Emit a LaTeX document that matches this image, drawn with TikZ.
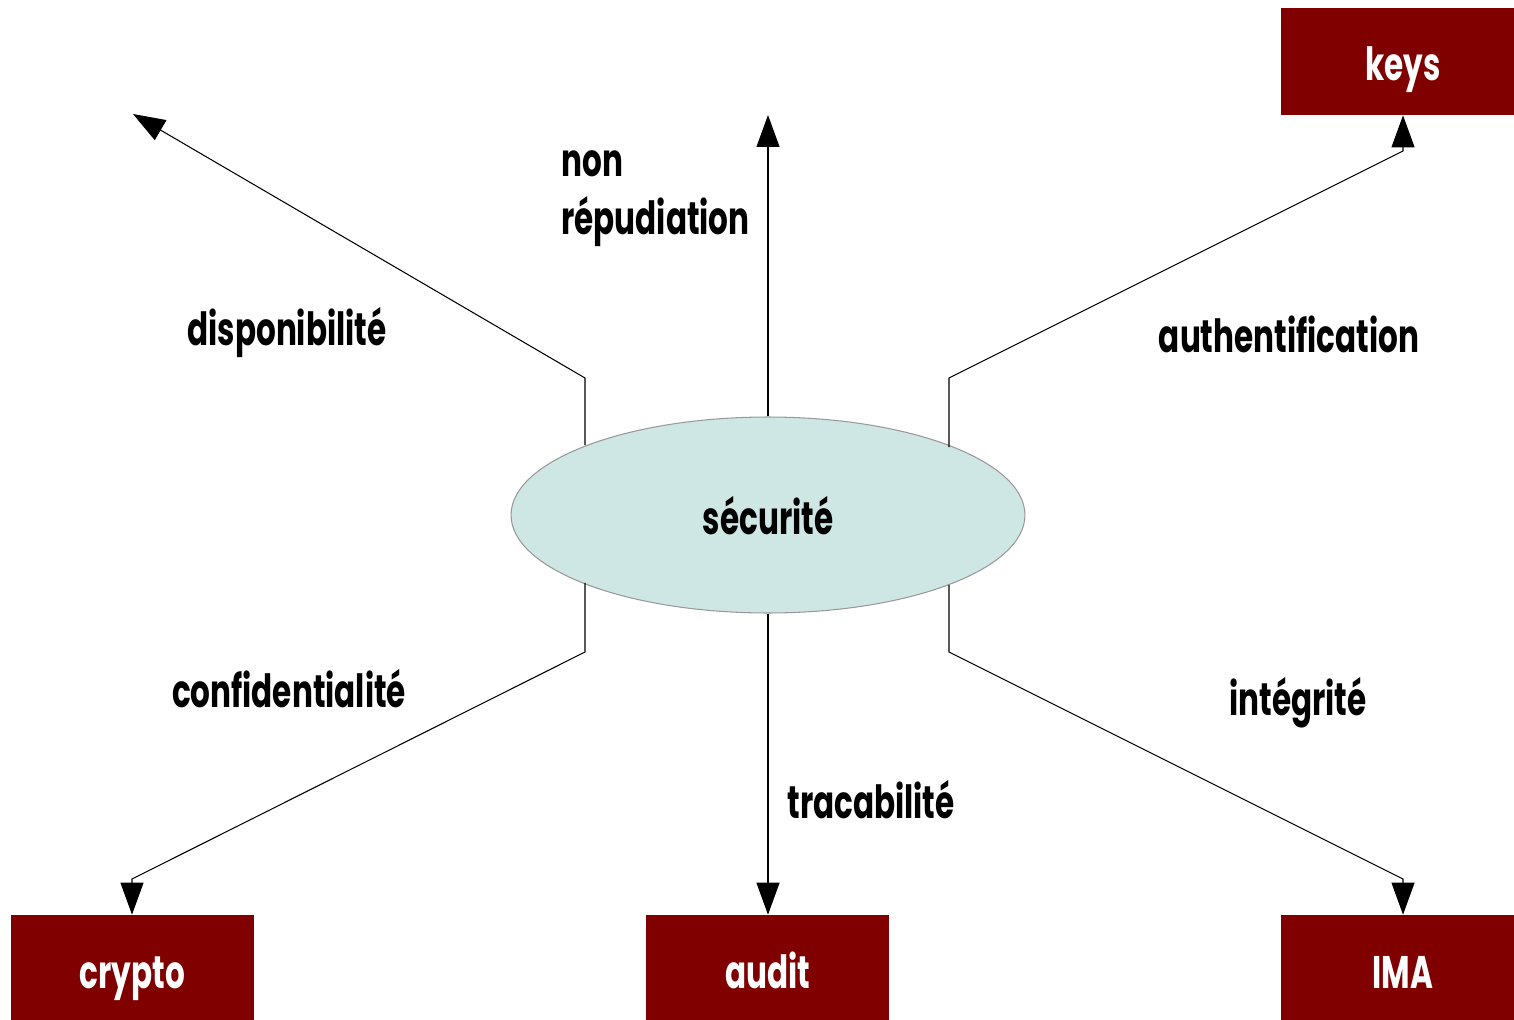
\documentclass[tikz,border=0pt]{standalone}
\usepackage{fontspec}
\setmainfont{Poppins}[FakeStretch=0.68]
\usetikzlibrary{shapes.geometric,arrows.meta}
\definecolor{boxred}{HTML}{800000}
\definecolor{secfill}{HTML}{CFE7E4}
\begin{document}
\begin{tikzpicture}[x=0.02cm,y=-0.02cm,
  lbl/.style={font=\fontsize{26}{28}\selectfont\bfseries,text=black,inner sep=0pt},
  target/.style={draw=none,fill=boxred,minimum width=4.88cm,minimum height=2.14cm,inner sep=0pt,
    text height=0.78cm,text depth=0cm,text=white,font=\fontsize{26}{28}\selectfont\bfseries},
  arr/.style={draw=black,line width=0.6pt,-{Triangle[length=0.64cm,width=0.46cm]}}]
\useasboundingbox (0,0) rectangle (1514,1020);
\fill[white] (0,0) rectangle (1514,1020);

% central concept
\node[ellipse,draw=gray!80,fill=secfill,line width=0.6pt,minimum width=10.28cm,minimum height=3.92cm,inner sep=0pt,
  text height=0.78cm,text depth=0cm,
  font=\fontsize{26}{28}\selectfont\bfseries] (sec) at (768,515) {sécurité};

% target boxes
\begin{scope}
\clip (0,0) rectangle (1514,1020);
\node[target] (keys) at (1403,61.5) {keys};
\node[target] (crypto) at (132.5,968.5) {crypto};
\node[target] (audit) at (767.5,968.5) {audit};
\node[target] (ima) at (1403,968.5) {IMA};
\end{scope}

% bends of the side connectors
\coordinate (bendUL) at (585,378);
\coordinate (bendUR) at (949,378);
\coordinate (bendLL) at (585,652);
\coordinate (bendLR) at (949,652);
% free ends of the two open arrows
\coordinate (dispoEnd) at (133,114);
\coordinate (nonEnd) at (768,115);

% connectors
\draw[arr] (sec.159.3 -| bendUL) -- (bendUL) -- (dispoEnd);
\draw[arr] (sec.north) -- (nonEnd);
\draw[arr] (sec.20.7 -| bendUR) -- (bendUR) -- (1403,151) -- (keys.south);
\draw[arr] (sec.200.7 -| bendLL) -- (bendLL) -- (132,879) -- (crypto.north -| 132,0);
\draw[arr] (sec.south) -- (audit.north -| sec.south);
\draw[arr] (sec.339.3 -| bendLR) -- (bendLR) -- (1403,879) -- (ima.north);

% labels
\node[lbl,align=left,anchor=north west] (nonrep) at (561,150) {non\\[5pt]répudiation};
\node[lbl] (dispo) at (287,333) {disponibilité};
\node[lbl] (auth) at (1289,334) {authentification};
\node[lbl] (conf) at (289,689) {confidentialité};
\node[lbl] (integ) at (1298,703) {intégrité};
\node[lbl] (trac) at (871,800) {tracabilité};
\end{tikzpicture}
\end{document}
